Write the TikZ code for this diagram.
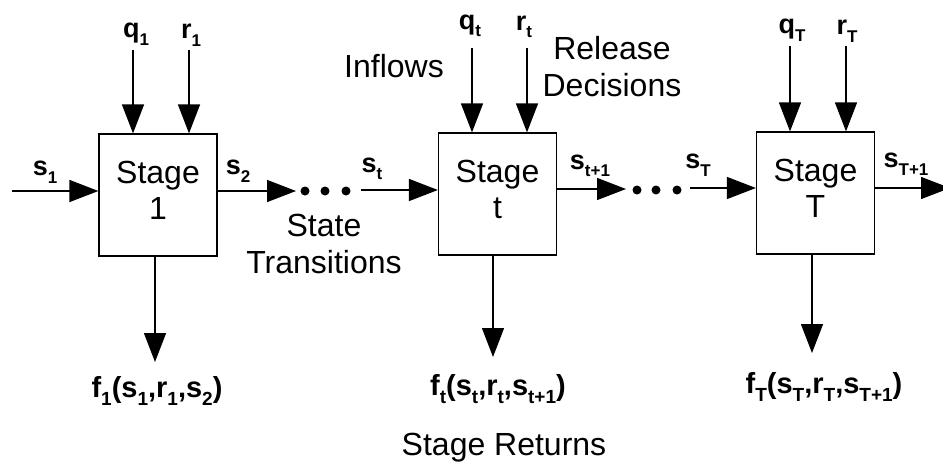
\documentclass[tikz,border=0pt]{standalone}
\usepackage{fontspec}
\setmainfont{Liberation Sans}
\usetikzlibrary{arrows.meta,calc}
% subscripts set a little lower and larger than \textsubscript
\newcommand{\sbs}[1]{\raisebox{-0.28em}{\fontsize{17}{17}\selectfont #1}}
\newcommand{\fsbs}[1]{\raisebox{-0.28em}{\fontsize{19}{19}\selectfont #1}}
\begin{document}
\begin{tikzpicture}[x=1pt,y=-1pt,
  stagebox/.style={draw,line width=1.2pt,minimum width=118pt,minimum height=122pt,
    inner sep=0pt},
  boxtext/.style={align=center,inner sep=0pt,yshift=5pt,font=\fontsize{32}{36}\selectfont},
  flow/.style={line width=1.4pt,-{Triangle[length=29pt,width=22pt]}},
  var/.style={inner sep=0pt,font=\fontsize{27}{30}\selectfont\bfseries},
  ret/.style={inner sep=0pt,font=\fontsize{29}{32}\selectfont\bfseries},
  word/.style={inner sep=0pt,align=center,font=\fontsize{32}{37}\selectfont},
  stepdot/.style={circle,fill,inner sep=0pt,minimum size=9pt}]
\useasboundingbox (0,0) rectangle (943,466);

% stage boxes
\node[stagebox,label={[boxtext]center:{Stage\\1}}] (b1) at (158,195) {};
\node[stagebox,label={[boxtext]center:{Stage\\t}}] (bt) at (497.5,194) {};
\node[stagebox,label={[boxtext]center:{Stage\\T}}] (bT) at (815.5,193) {};

% inflow and release inputs
\coordinate (q1) at (133,50);  \coordinate (r1) at (189,50);
\coordinate (qt) at (472,48);  \coordinate (rt) at (527,48);
\coordinate (qT) at (790,46);  \coordinate (rT) at (846,46);
\draw[flow] (q1) -- (q1 |- b1.north);
\draw[flow] (r1) -- (r1 |- b1.north);
\draw[flow] (qt) -- (qt |- bt.north);
\draw[flow] (rt) -- (rt |- bt.north);
\draw[flow] (qT) -- (qT |- bT.north);
\draw[flow] (rT) -- (rT |- bT.north);
\node[var] (lq1) at (136,34) {q\sbs{1}};
\node[var] (lr1) at (191,35) {r\sbs{1}};
\node[var] (lqt) at (470,26) {q\sbs{t}};
\node[var] (lrt) at (524,27) {r\sbs{t}};
\node[var] (lqT) at (792,30) {q\sbs{T}};
\node[var] (lrT) at (847,31) {r\sbs{T}};

% state transitions
\coordinate (sin) at (12,191);
\draw[flow] (sin) -- (sin -| b1.west);
\coordinate (s2end) at (296,191);
\draw[flow] (b1.east |- s2end) -- (s2end);
\node[stepdot] (d1) at (305,191) {};
\node[stepdot] (d2) at (325,191) {};
\node[stepdot] (d3) at (346,191) {};
\coordinate (ststart) at (361,190);
\draw[flow] (ststart) -- (ststart -| bt.west);
\coordinate (st1end) at (626,189);
\draw[flow] (bt.east |- st1end) -- (st1end);
\node[stepdot] (d4) at (637,190) {};
\node[stepdot] (d5) at (656,190) {};
\node[stepdot] (d6) at (677,190) {};
\coordinate (sTstart) at (690,188);
\draw[flow] (sTstart) -- (sTstart -| bT.west);
\coordinate (sTend) at (950,188);
\draw[flow] (bT.east |- sTend) -- (sTend);
\node[var] (ls1) at (45,172) {s\sbs{1}};
\node[var] (ls2) at (238,171) {s\sbs{2}};
\node[var] (lst) at (372,169) {s\sbs{t}};
\node[var] (lst1) at (590,166) {s\sbs{t+1}};
\node[var] (lsT) at (698,165) {s\sbs{T}};
\node[var] (lsT1) at (906,164) {s\sbs{T+1}};

% stage returns
\node[ret] (f1) at (157,391) {f\fsbs{1}(s\fsbs{1},r\fsbs{1},s\fsbs{2})};
\node[ret] (ft) at (498,389) {f\fsbs{t}(s\fsbs{t},r\fsbs{t},s\fsbs{t+1})};
\node[ret] (fT) at (824,387) {f\fsbs{T}(s\fsbs{T},r\fsbs{T},s\fsbs{T+1})};
\draw[flow] (b1.south -| 155,0) -- (155,362);
\draw[flow] (bt.south -| 493,0) -- (493,357);
\draw[flow] (bT.south -| 812,0) -- (812,353);

% captions
\node[word] (inflows) at (394,66) {Inflows};
\node[word] (release) at (612,67) {Release\\Decisions};
\node[word] (trans) at (324,244) {State\\Transitions};
\node[word] (returns) at (504,448) {Stage Returns};
\end{tikzpicture}
\end{document}
